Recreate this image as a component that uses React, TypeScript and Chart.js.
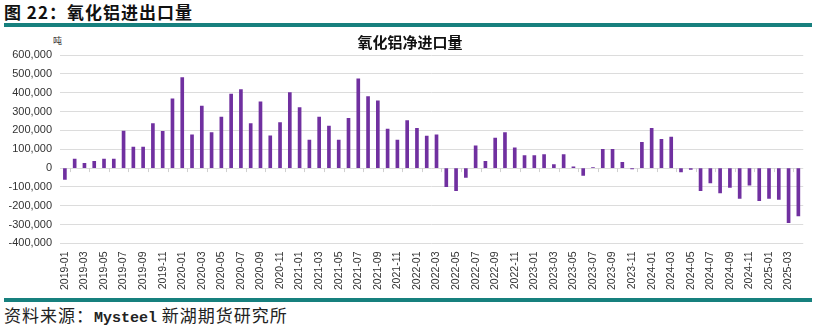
import React, { useEffect, useRef } from "react";
import { Chart, registerables } from "chart.js";

Chart.register(...registerables);

const categories = [
  "2019-01", "2019-02", "2019-03", "2019-04", "2019-05", "2019-06", "2019-07", "2019-08", "2019-09", "2019-10", "2019-11", "2019-12",
  "2020-01", "2020-02", "2020-03", "2020-04", "2020-05", "2020-06", "2020-07", "2020-08", "2020-09", "2020-10", "2020-11", "2020-12",
  "2021-01", "2021-02", "2021-03", "2021-04", "2021-05", "2021-06", "2021-07", "2021-08", "2021-09", "2021-10", "2021-11", "2021-12",
  "2022-01", "2022-02", "2022-03", "2022-04", "2022-05", "2022-06", "2022-07", "2022-08", "2022-09", "2022-10", "2022-11", "2022-12",
  "2023-01", "2023-02", "2023-03", "2023-04", "2023-05", "2023-06", "2023-07", "2023-08", "2023-09", "2023-10", "2023-11", "2023-12",
  "2024-01", "2024-02", "2024-03", "2024-04", "2024-05", "2024-06", "2024-07", "2024-08", "2024-09", "2024-10", "2024-11", "2024-12",
  "2025-01", "2025-02", "2025-03", "2025-04",
];

// 氧化铝净进口量（吨）
const netImports = [
  -60000, 48000, 25000, 36000, 48000, 48000, 196000, 112000, 112000, 236000, 195000, 368000,
  480000, 177000, 329000, 189000, 270000, 393000, 416000, 236000, 352000, 171000, 241000, 400000,
  321000, 148000, 270000, 223000, 148000, 264000, 473000, 380000, 357000, 207000, 148000, 252000,
  211000, 170000, 177000, -98000, -120000, -50000, 118000, 36000, 159000, 189000, 107000, 66000,
  66000, 71000, 18000, 71000, 7000, -39000, 2000, 100000, 100000, 30000, -4000, 136000,
  211000, 152000, 164000, -20000, -7000, -120000, -79000, -132000, -102000, -161000, -91000, -173000,
  -161000, -166000, -289000, -254000,
];

const yMin = -400000;
const yMax = 600000;
const yStep = 100000;

const chartTitle = "氧化铝净进口量";
const headerText = "图 22：氧化铝进出口量";
const unitText = "吨";

const TEAL = "#17807e";
const PURPLE = "#7030a0";

const zeroTicks = {
  id: "zeroTicks",
  afterDatasetsDraw(chart: any) {
    const x = chart.scales.x;
    const y = chart.scales.y;
    const y0 = y.getPixelForValue(0);
    const ctx = chart.ctx;
    ctx.save();
    ctx.strokeStyle = "#d0d0d0";
    ctx.lineWidth = 1;
    for (let i = 0; i < categories.length; i += 2) {
      const px = Math.round((x.getPixelForValue(i) + x.getPixelForValue(i + 1)) / 2) + 0.5;
      ctx.beginPath();
      ctx.moveTo(px, y0);
      ctx.lineTo(px, y0 + 4);
      ctx.stroke();
    }
    ctx.restore();
  },
};

export default function App() {
  const ref = useRef<HTMLCanvasElement>(null);

  useEffect(() => {
    if (!ref.current) return;
    const chart = new Chart(ref.current, {
      type: "bar",
      data: {
        labels: categories,
        datasets: [
          {
            label: chartTitle,
            data: netImports,
            backgroundColor: PURPLE,
            borderWidth: 0,
            barThickness: 3,
          },
        ],
      },
      plugins: [zeroTicks],
      options: {
        animation: false,
        responsive: true,
        maintainAspectRatio: false,
        layout: { padding: { left: 8, right: 7, top: 0, bottom: 2 } },
        plugins: {
          legend: { display: false },
          tooltip: { enabled: false },
          title: {
            display: true,
            text: chartTitle,
            color: "#111",
            font: { family: "'Noto Sans CJK SC', sans-serif", size: 15, weight: "bold" },
            padding: { top: 3, bottom: 4 },
          },
        },
        scales: {
          x: {
            grid: { display: false, drawTicks: false },
            border: { display: false },
            ticks: {
              autoSkip: false,
              maxRotation: 90,
              minRotation: 90,
              padding: 8,
              color: "#333",
              font: { family: "'Liberation Sans', Arial, sans-serif", size: 10.5 },
              callback: (_v: any, i: number) => (i % 2 === 0 ? categories[i] : ""),
            },
          },
          y: {
            min: yMin,
            max: yMax,
            afterFit: (s: any) => {
              s.width = 52;
            },
            grid: { color: "#dcdcdc", drawTicks: false },
            border: { display: false },
            ticks: {
              stepSize: yStep,
              padding: 8,
              color: "#333",
              font: { family: "'Liberation Sans', Arial, sans-serif", size: 11 },
              callback: (v: any) => Number(v).toLocaleString("en-US"),
            },
          },
        },
      },
    });
    return () => chart.destroy();
  }, []);

  return (
    <div
      style={{
        position: "fixed",
        left: 0,
        top: 0,
        width: 819,
        height: 336,
        background: "#fff",
        overflow: "hidden",
      }}
    >
      <div
        style={{
          position: "absolute",
          left: 4,
          top: 2,
          fontFamily: "'Noto Sans CJK SC', sans-serif",
          fontWeight: "bold",
          fontSize: 17,
          lineHeight: "20px",
          letterSpacing: 1,
          color: "#111",
          whiteSpace: "nowrap",
        }}
      >
        {headerText}
      </div>
      <div style={{ position: "absolute", left: 4, top: 23, width: 808, height: 4, background: TEAL }} />
      <div
        style={{
          position: "absolute",
          left: 53,
          top: 36,
          fontFamily: "'Noto Sans CJK SC', sans-serif",
          fontSize: 9,
          lineHeight: "10px",
          color: "#333",
        }}
      >
        {unitText}
      </div>
      <div style={{ position: "absolute", left: 0, top: 30, width: 819, height: 270 }}>
        <canvas ref={ref} />
      </div>
      <div style={{ position: "absolute", left: 4, top: 298, width: 808, height: 4, background: TEAL }} />
      <div
        style={{
          position: "absolute",
          left: 4,
          top: 305,
          fontFamily: "'Noto Sans CJK SC', sans-serif",
          fontSize: 17,
          lineHeight: "20px",
          letterSpacing: 1,
          color: "#222",
          whiteSpace: "nowrap",
        }}
      >
        资料来源：
        <span style={{ fontFamily: "'Liberation Mono', monospace", fontSize: 15, fontWeight: "bold", letterSpacing: 0 }}>Mysteel</span>
        {" "}新湖期货研究所
      </div>
    </div>
  );
}
